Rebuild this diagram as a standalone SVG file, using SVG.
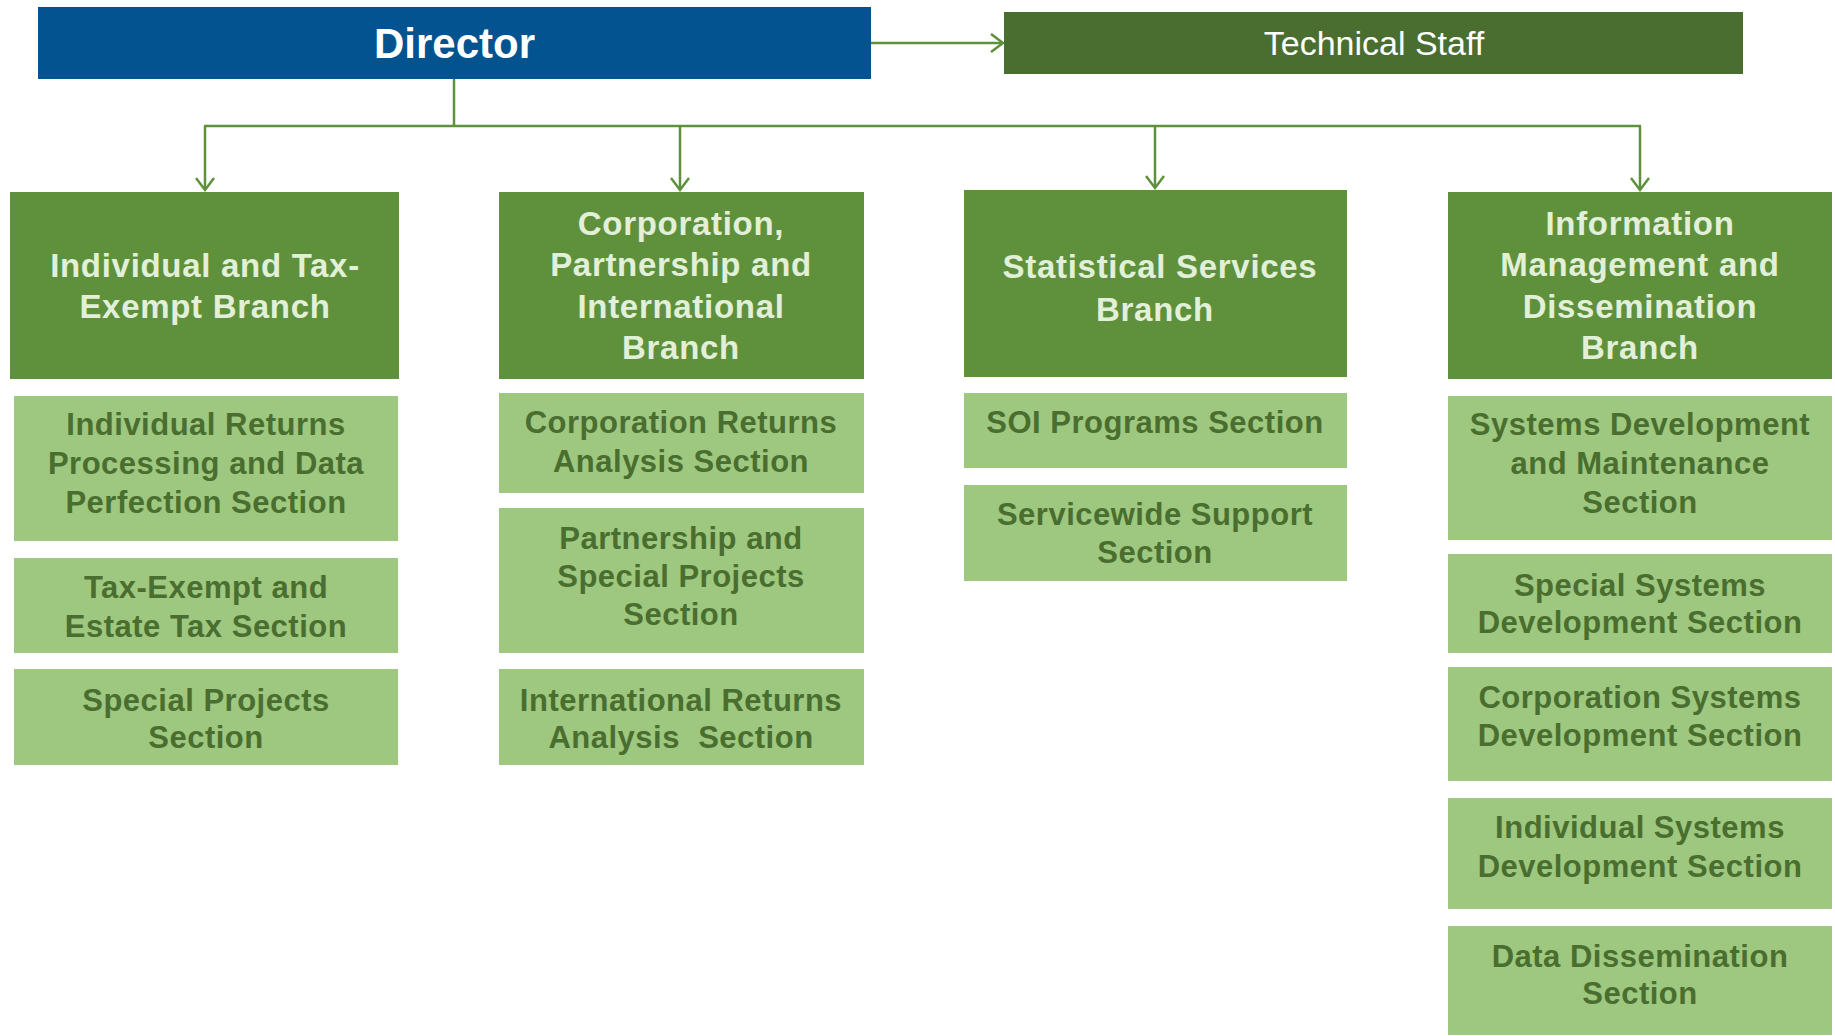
<svg xmlns="http://www.w3.org/2000/svg" width="1835" height="1036" viewBox="0 0 1835 1036">
<style>
.br{fill:#5F913C}
.sec{fill:#9EC87F}
.bt{font-family:"Liberation Sans",Arial,sans-serif;font-weight:bold;font-size:33px;fill:#E2EFD9;text-anchor:middle;letter-spacing:0.7px}
.st{font-family:"Liberation Sans",Arial,sans-serif;font-weight:bold;font-size:31px;fill:#4A6E2F;text-anchor:middle;letter-spacing:0.5px}
.cn{fill:none;stroke:#5F913C;stroke-width:2.5}
</style>
<defs>
<marker id="ah" markerUnits="userSpaceOnUse" markerWidth="24" markerHeight="24" viewBox="0 0 24 24" refX="21" refY="12" orient="auto">
<path d="M9,3 L21,12 L9,21" fill="none" stroke="#5F913C" stroke-width="2.5"/>
</marker>
</defs>
<rect width="1835" height="1036" fill="#FFFFFF"/>
<g id="connectors">
<line class="cn" x1="871" y1="43" x2="1003" y2="43" marker-end="url(#ah)"/>
<polyline class="cn" points="454,78 454,126"/>
<line class="cn" x1="204" y1="126" x2="1641" y2="126"/>
<line class="cn" x1="205" y1="126" x2="205" y2="190" marker-end="url(#ah)"/>
<line class="cn" x1="680" y1="126" x2="680" y2="190" marker-end="url(#ah)"/>
<line class="cn" x1="1155" y1="126" x2="1155" y2="188" marker-end="url(#ah)"/>
<line class="cn" x1="1640" y1="126" x2="1640" y2="190" marker-end="url(#ah)"/>
</g>
<g id="director">
<rect x="38" y="7" width="833" height="72" fill="#02538F"/>
<text x="454.5" y="58" font-family="Liberation Sans,Arial,sans-serif" font-weight="bold" font-size="42" fill="#FFFFFF" text-anchor="middle">Director</text>
</g>
<g id="technical-staff">
<rect x="1004" y="12" width="739" height="62" fill="#4A6E2F"/>
<text x="1374" y="55" font-family="Liberation Sans,Arial,sans-serif" font-size="34" fill="#FFFFFF" text-anchor="middle">Technical Staff</text>
</g>
<g id="branch-individual">
<rect class="br" x="10" y="192" width="389" height="187"/>
<text class="bt" x="205" y="277">Individual and Tax-</text>
<text class="bt" x="205" y="318">Exempt Branch</text>
</g>
<g id="sec-individual-returns">
<rect class="sec" x="14" y="396" width="384" height="145"/>
<text class="st" x="206" y="435">Individual Returns</text>
<text class="st" x="206" y="474">Processing and Data</text>
<text class="st" x="206" y="512.5">Perfection Section</text>
</g>
<g id="sec-tax-exempt">
<rect class="sec" x="14" y="558" width="384" height="95"/>
<text class="st" x="206" y="598">Tax-Exempt and</text>
<text class="st" x="206" y="636.5">Estate Tax Section</text>
</g>
<g id="sec-special-projects">
<rect class="sec" x="14" y="669" width="384" height="96"/>
<text class="st" x="206" y="710.5">Special Projects</text>
<text class="st" x="206" y="748">Section</text>
</g>
<g id="branch-corporation">
<rect class="br" x="499" y="192" width="365" height="187"/>
<text class="bt" x="681" y="234.5">Corporation,</text>
<text class="bt" x="681" y="276">Partnership and</text>
<text class="bt" x="681" y="317.5">International</text>
<text class="bt" x="681" y="359">Branch</text>
</g>
<g id="sec-corporation-returns">
<rect class="sec" x="499" y="393" width="365" height="100"/>
<text class="st" x="681" y="433">Corporation Returns</text>
<text class="st" x="681" y="471.5">Analysis Section</text>
</g>
<g id="sec-partnership">
<rect class="sec" x="499" y="508" width="365" height="145"/>
<text class="st" x="681" y="548.5">Partnership and</text>
<text class="st" x="681" y="587">Special Projects</text>
<text class="st" x="681" y="625">Section</text>
</g>
<g id="sec-international">
<rect class="sec" x="499" y="669" width="365" height="96"/>
<text class="st" x="681" y="710.5">International Returns</text>
<text class="st" x="681" y="748" xml:space="preserve">Analysis  Section</text>
</g>
<g id="branch-statistical">
<rect class="br" x="964" y="190" width="383" height="187"/>
<text class="bt" x="1160" y="278">Statistical Services</text>
<text class="bt" x="1155" y="321">Branch</text>
</g>
<g id="sec-soi">
<rect class="sec" x="964" y="393" width="383" height="75"/>
<text class="st" x="1155" y="433">SOI Programs Section</text>
</g>
<g id="sec-servicewide">
<rect class="sec" x="964" y="485" width="383" height="96"/>
<text class="st" x="1155" y="524.5">Servicewide Support</text>
<text class="st" x="1155" y="563">Section</text>
</g>
<g id="branch-information">
<rect class="br" x="1448" y="192" width="384" height="187"/>
<text class="bt" x="1640" y="234.5">Information</text>
<text class="bt" x="1640" y="276">Management and</text>
<text class="bt" x="1640" y="317.5">Dissemination</text>
<text class="bt" x="1640" y="359">Branch</text>
</g>
<g id="sec-systems-dev">
<rect class="sec" x="1448" y="396" width="384" height="144"/>
<text class="st" x="1640" y="435">Systems Development</text>
<text class="st" x="1640" y="474">and Maintenance</text>
<text class="st" x="1640" y="512.5">Section</text>
</g>
<g id="sec-special-systems">
<rect class="sec" x="1448" y="554" width="384" height="99"/>
<text class="st" x="1640" y="595.5">Special Systems</text>
<text class="st" x="1640" y="633">Development Section</text>
</g>
<g id="sec-corporation-systems">
<rect class="sec" x="1448" y="667" width="384" height="114"/>
<text class="st" x="1640" y="708">Corporation Systems</text>
<text class="st" x="1640" y="745.5">Development Section</text>
</g>
<g id="sec-individual-systems">
<rect class="sec" x="1448" y="798" width="384" height="111"/>
<text class="st" x="1640" y="838">Individual Systems</text>
<text class="st" x="1640" y="876.5">Development Section</text>
</g>
<g id="sec-data-dissemination">
<rect class="sec" x="1448" y="926" width="384" height="109"/>
<text class="st" x="1640" y="966.5">Data Dissemination</text>
<text class="st" x="1640" y="1004">Section</text>
</g>
</svg>
